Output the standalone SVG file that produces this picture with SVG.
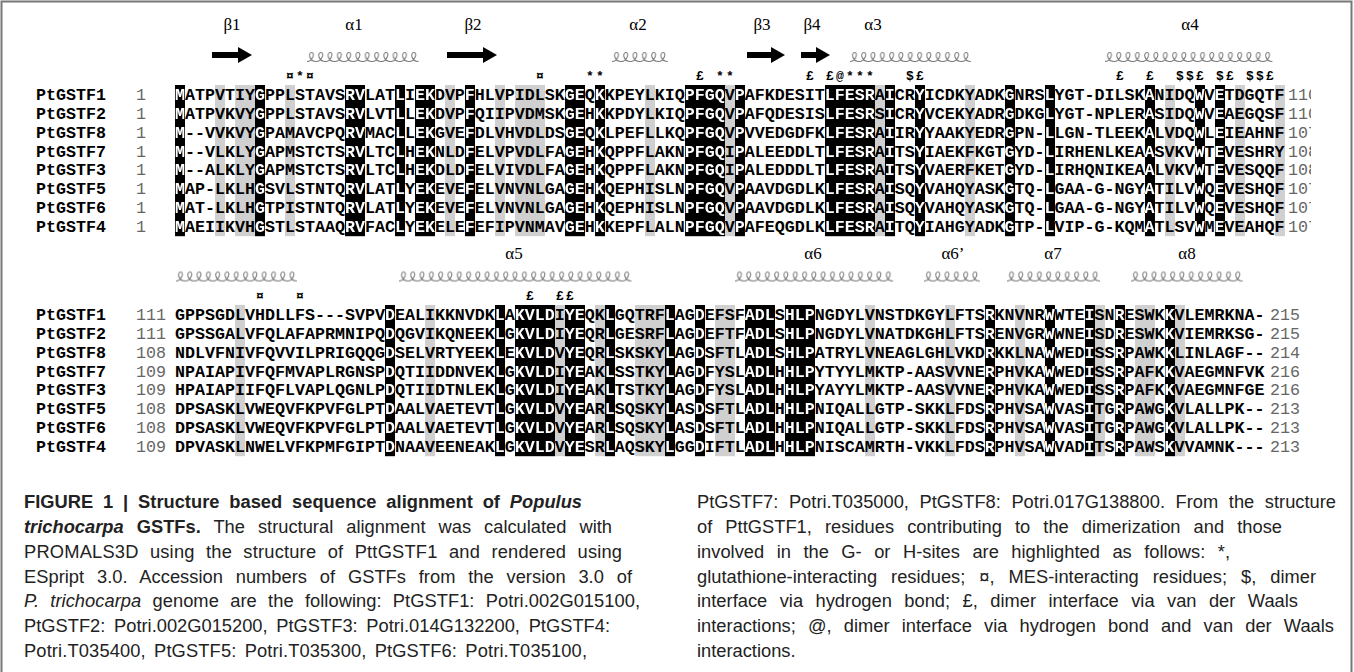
<svg xmlns="http://www.w3.org/2000/svg" width="1354" height="672" viewBox="0 0 1354 672">
<style>
.seq{font-family:'Liberation Mono','Courier New',monospace;font-weight:bold;font-size:16.667px}
.nm{font-family:'Liberation Mono','Courier New',monospace;font-weight:bold;font-size:16.667px;fill:#000}
.num{font-family:'Liberation Mono','Courier New',monospace;font-size:16.667px;fill:#666}
.ss{font-family:'Liberation Serif','Times New Roman',serif;font-size:17px;text-anchor:middle;fill:#000}
.mk{font-family:'Liberation Mono','Courier New',monospace;font-weight:bold;font-size:13px;text-anchor:middle;fill:#000}
.cap{font-family:'Liberation Sans',Arial,sans-serif;font-size:18.3px;fill:#222}
.b{font-weight:bold}
.i{font-style:italic}
.g{fill:#d0d0d0}
.strand{fill:#000}
</style>
<defs>
<pattern id="coil" width="9.3" height="12" patternUnits="userSpaceOnUse">
<path d="M0,10.5 c5.6,0 8.4,-9 4.65,-9 c-3.7,0 -2.8,9 4.65,9" fill="none" stroke="#777" stroke-width="1"/>
</pattern>
<clipPath id="endclip"><rect x="1200" y="80" width="111" height="160"/></clipPath>
<g id="blk">
<rect x="175" y="85" width="10" height="151.2"/><rect x="255" y="85" width="10" height="151.2"/><rect x="345" y="85" width="20" height="151.2"/><rect x="395" y="85" width="10" height="151.2"/><rect x="415" y="85" width="20" height="151.2"/><rect x="465" y="85" width="10" height="151.2"/><rect x="565" y="85" width="20" height="151.2"/><rect x="595" y="85" width="10" height="151.2"/><rect x="685" y="85" width="40" height="151.2"/><rect x="735" y="85" width="10" height="151.2"/><rect x="825" y="85" width="50" height="151.2"/><rect x="885" y="85" width="10" height="151.2"/><rect x="915" y="85" width="10" height="151.2"/><rect x="1005" y="85" width="10" height="151.2"/><rect x="1045" y="85" width="10" height="151.2"/><rect x="1145" y="85" width="10" height="151.2"/><rect x="1195" y="85" width="10" height="151.2"/><rect x="1215" y="85" width="10" height="151.2"/>
<rect x="385" y="305" width="10" height="151.2"/><rect x="495" y="305" width="10" height="151.2"/><rect x="515" y="305" width="40" height="151.2"/><rect x="565" y="305" width="20" height="151.2"/><rect x="605" y="305" width="10" height="151.2"/><rect x="665" y="305" width="10" height="151.2"/><rect x="695" y="305" width="10" height="151.2"/><rect x="745" y="305" width="30" height="151.2"/><rect x="785" y="305" width="30" height="151.2"/><rect x="985" y="305" width="10" height="151.2"/><rect x="1045" y="305" width="10" height="151.2"/><rect x="1085" y="305" width="10" height="151.2"/><rect x="1115" y="305" width="10" height="151.2"/><rect x="1165" y="305" width="10" height="151.2"/>
</g>
<mask id="wm" maskUnits="userSpaceOnUse" x="0" y="0" width="1354" height="672"><use href="#blk" fill="#fff"/></mask>
<g id="seqs">
<text class="seq" x="175" y="99.8">MATPVTIYGPPLSTAVSRVLATLIEKDVPFHLVPIDLSKGEQKKPEYLKIQPFGQVPAFKDESITLFESRAICRYICDKYADKGNRSLYGT-DILSKANIDQWVETDGQTF</text>
<text class="seq" x="175" y="118.7">MATPVKVYGPPLSTAVSRVLVTLLEKDVPFQIIPVDMSKGEHKKPDYLKIQPFGQVPAFQDESISLFESRSICRYVCEKYADRGDKGLYGT-NPLERASIDQWVEAEGQSF</text>
<text class="seq" x="175" y="137.6">M--VVKVYGPAMAVCPQRVMACLLEKGVEFDLVHVDLDSGEQKLPEFLLKQPFGQVPVVEDGDFKLFESRAIIRYYAAKYEDRGPN-LLGN-TLEEKALVDQWLEIEAHNF</text>
<text class="seq" x="175" y="156.5">M--VLKLYGAPMSTCTSRVLTCLHEKNLDFELVPVDLFAGEHKQPPFLAKNPFGQIPALEEDDLTLFESRAITSYIAEKFKGTGYD-LIRHENLKEAASVKVWTEVESHRY</text>
<text class="seq" x="175" y="175.4">M--ALKLYGAPMSTCTSRVLTCLHEKDLDFELVIVDLFAGEHKQPPFLAKNPFGQIPALEDDDLTLFESRAITSYVAERFKETGYD-LIRHQNIKEAALVKVWTEVESQQF</text>
<text class="seq" x="175" y="194.3">MAP-LKLHGSVLSTNTQRVLATLYEKEVEFELVNVNLGAGEHKQEPHISLNPFGQVPAAVDGDLKLFESRAISQYVAHQYASKGTQ-LGAA-G-NGYATILVWQEVESHQF</text>
<text class="seq" x="175" y="213.2">MAT-LKLHGTPISTNTQRVLATLYEKEVEFELVNVNLGAGEHKQEPHISLNPFGQVPAAVDGDLKLFESRAISQYVAHQYASKGTQ-LGAA-G-NGYATILVWQEVESHQF</text>
<text class="seq" x="175" y="232.1">MAEIIKVHGSTLSTAAQRVFACLYEKELEFEFIPVNMAVGEHKKEPFLALNPFGQVPAFEQGDLKLFESRAITQYIAHGYADKGTP-LVIP-G-KQMATLSVWMEVEAHQF</text>
<text class="seq" x="175" y="319.8">GPPSGDLVHDLLFS---SVPVDEALIKKNVDKLAKVLDIYEQKLGQTRFLAGDEFSFADLSHLPNGDYLVNSTDKGYLFTSRKNVNRWWTEISNRESWKKVLEMRKNA-</text>
<text class="seq" x="175" y="338.7">GPSSGALVFQLAFAPRMNIPQDQGVIKQNEEKLGKVLDIYEQRLGESRFLAGDEFTFADLSHLPNGDYLVNATDKGHLFTSRENVGRWWNEISDRESWKKVIEMRKSG-</text>
<text class="seq" x="175" y="357.6">NDLVFNIVFQVVILPRIGQQGDSELVRTYEEKLEKVLDVYEQRLSKSKYLAGDSFTLADLSHLPATRYLVNEAGLGHLVKDRKKLNAWWEDISSRPAWKKLINLAGF--</text>
<text class="seq" x="175" y="376.5">NPAIAPIVFQFMVAPLRGNSPDQTIIDDNVEKLGKVLDIYEAKLSSTKYLAGDFYSLADLHHLPYTYYLMKTP-AASVVNERPHVKAWWEDISSRPAFKKVAEGMNFVK</text>
<text class="seq" x="175" y="395.4">HPAIAPIIFQFLVAPLQGNLPDQTIIDTNLEKLGKVLDIYEAKLTSTKYLAGDFYSLADLHHLPYAYYLMKTP-AASVVNERPHVKAWWEDISSRPAFKKVAEGMNFGE</text>
<text class="seq" x="175" y="414.3">DPSASKLVWEQVFKPVFGLPTDAALVAETEVTLGKVLDVYEARLSQSKYLASDSFTLADLHHLPNIQALLGTP-SKKLFDSRPHVSAWVASITGRPAWGKVLALLPK--</text>
<text class="seq" x="175" y="433.2">DPSASKLVWEQVFKPVFGLPTDAALVAETEVTLGKVLDVYEARLSQSKYLASDSFTLADLHHLPNIQALLGTP-SKKLFDSRPHVSAWVASITGRPAWGKVLALLPK--</text>
<text class="seq" x="175" y="452.1">DPVASKLNWELVFKPMFGIPTDNAAVEENEAKLGKVLDVYESRLAQSKYLGGDIFTLADLHHLPNISCAMRTH-VKKLFDSRPHVSAWVADITSRPAWSKVVAMNK---</text>
</g>
</defs>
<rect x="1.5" y="1.5" width="1350" height="700" fill="none" stroke="#777" stroke-width="2"/>
<g id="similar-columns">
<rect class="g" x="215" y="85" width="10" height="151.2"/><rect class="g" x="235" y="85" width="20" height="151.2"/><rect class="g" x="285" y="85" width="10" height="151.2"/><rect class="g" x="445" y="85" width="10" height="151.2"/><rect class="g" x="495" y="85" width="10" height="151.2"/><rect class="g" x="515" y="85" width="30" height="151.2"/><rect class="g" x="645" y="85" width="10" height="151.2"/><rect class="g" x="725" y="85" width="10" height="151.2"/><rect class="g" x="875" y="85" width="10" height="151.2"/><rect class="g" x="965" y="85" width="10" height="151.2"/><rect class="g" x="1165" y="85" width="10" height="151.2"/><rect class="g" x="1235" y="85" width="10" height="151.2"/><rect class="g" x="1275" y="85" width="10" height="151.2"/>
<rect class="g" x="235" y="305" width="10" height="151.2"/><rect class="g" x="425" y="305" width="10" height="151.2"/><rect class="g" x="555" y="305" width="10" height="151.2"/><rect class="g" x="595" y="305" width="10" height="151.2"/><rect class="g" x="635" y="305" width="30" height="151.2"/><rect class="g" x="715" y="305" width="20" height="151.2"/><rect class="g" x="865" y="305" width="10" height="151.2"/><rect class="g" x="945" y="305" width="10" height="151.2"/><rect class="g" x="1015" y="305" width="10" height="151.2"/><rect class="g" x="1095" y="305" width="10" height="151.2"/><rect class="g" x="1135" y="305" width="20" height="151.2"/><rect class="g" x="1175" y="305" width="10" height="151.2"/>
</g>
<g id="identical-columns"><use href="#blk" fill="#000"/></g>
<g id="sequences">
<use href="#seqs" fill="#000"/>
<use href="#seqs" fill="#fff" mask="url(#wm)"/>
</g>
<g id="names">
<text class="nm" x="36" y="99.8">PtGSTF1</text><text class="nm" x="36" y="118.7">PtGSTF2</text><text class="nm" x="36" y="137.6">PtGSTF8</text><text class="nm" x="36" y="156.5">PtGSTF7</text><text class="nm" x="36" y="175.4">PtGSTF3</text><text class="nm" x="36" y="194.3">PtGSTF5</text><text class="nm" x="36" y="213.2">PtGSTF6</text><text class="nm" x="36" y="232.1">PtGSTF4</text>
<text class="nm" x="36" y="319.8">PtGSTF1</text><text class="nm" x="36" y="338.7">PtGSTF2</text><text class="nm" x="36" y="357.6">PtGSTF8</text><text class="nm" x="36" y="376.5">PtGSTF7</text><text class="nm" x="36" y="395.4">PtGSTF3</text><text class="nm" x="36" y="414.3">PtGSTF5</text><text class="nm" x="36" y="433.2">PtGSTF6</text><text class="nm" x="36" y="452.1">PtGSTF4</text>
</g>
<g id="numbers">
<text class="num" x="136" y="99.8">1</text><text class="num" x="136" y="118.7">1</text><text class="num" x="136" y="137.6">1</text><text class="num" x="136" y="156.5">1</text><text class="num" x="136" y="175.4">1</text><text class="num" x="136" y="194.3">1</text><text class="num" x="136" y="213.2">1</text><text class="num" x="136" y="232.1">1</text>
<g clip-path="url(#endclip)">
<text class="num" x="1288" y="99.8">110</text><text class="num" x="1288" y="118.7">110</text><text class="num" x="1288" y="137.6">107</text><text class="num" x="1288" y="156.5">108</text><text class="num" x="1288" y="175.4">108</text><text class="num" x="1288" y="194.3">107</text><text class="num" x="1288" y="213.2">107</text><text class="num" x="1288" y="232.1">107</text>
</g>
<text class="num" x="136" y="319.8">111</text><text class="num" x="136" y="338.7">111</text><text class="num" x="136" y="357.6">108</text><text class="num" x="136" y="376.5">109</text><text class="num" x="136" y="395.4">109</text><text class="num" x="136" y="414.3">108</text><text class="num" x="136" y="433.2">108</text><text class="num" x="136" y="452.1">109</text>
<text class="num" x="1270" y="319.8">215</text><text class="num" x="1270" y="338.7">215</text><text class="num" x="1270" y="357.6">214</text><text class="num" x="1270" y="376.5">216</text><text class="num" x="1270" y="395.4">216</text><text class="num" x="1270" y="414.3">213</text><text class="num" x="1270" y="433.2">213</text><text class="num" x="1270" y="452.1">213</text>
</g>
<g id="secondary-structure">
<text class="ss" x="232" y="30">β1</text><text class="ss" x="354" y="30">α1</text><text class="ss" x="473" y="30">β2</text><text class="ss" x="638" y="30">α2</text><text class="ss" x="762" y="30">β3</text><text class="ss" x="812" y="30">β4</text><text class="ss" x="873" y="30">α3</text><text class="ss" x="1190" y="30">α4</text>
<polygon class="strand" points="212,52 238,52 238,47 252,55 238,63 238,58 212,58"/>
<polygon class="strand" points="447,52 483,52 483,47 497,55 483,63 483,58 447,58"/>
<polygon class="strand" points="747,52 771,52 771,47 785,55 771,63 771,58 747,58"/>
<polygon class="strand" points="801,52 816,52 816,47 830,55 816,63 816,58 801,58"/>
<rect transform="translate(307,51)" width="111.6" height="12" fill="url(#coil)"/>
<rect transform="translate(612,51)" width="55.8" height="12" fill="url(#coil)"/>
<rect transform="translate(850,51)" width="120.9" height="12" fill="url(#coil)"/>
<rect transform="translate(1105,51)" width="167.4" height="12" fill="url(#coil)"/>
<text class="ss" x="514" y="259">α5</text><text class="ss" x="813" y="259">α6</text><text class="ss" x="953" y="259">α6’</text><text class="ss" x="1053" y="259">α7</text><text class="ss" x="1187" y="259">α8</text>
<rect transform="translate(176,270.5)" width="120.9" height="12" fill="url(#coil)"/>
<rect transform="translate(399,270.5)" width="232.5" height="12" fill="url(#coil)"/>
<rect transform="translate(735,270.5)" width="158.1" height="12" fill="url(#coil)"/>
<rect transform="translate(924,270.5)" width="55.8" height="12" fill="url(#coil)"/>
<rect transform="translate(1007,270.5)" width="93" height="12" fill="url(#coil)"/>
<rect transform="translate(1131,270.5)" width="111.6" height="12" fill="url(#coil)"/>
</g>
<g id="markers">
<text class="mk" x="290 300 310 540 590 600 700 720 730 810 830 840 850 860 870 910 920 1120 1150 1180 1190 1200 1220 1230 1250 1260 1270" y="80">¤*¤¤**£**££@***$£££$$£$£$$£</text>
<text class="mk" x="260 300 530 560 570" y="300">¤¤£££</text>
</g>
<g id="caption" class="cap">
<text x="24" y="507.7" word-spacing="4.8" textLength="558" lengthAdjust="spacing"><tspan class="b">FIGURE 1 | Structure based sequence alignment of </tspan><tspan class="b i">Populus</tspan></text>
<text x="24" y="532.6" word-spacing="7.9" textLength="588" lengthAdjust="spacing"><tspan class="b i">trichocarpa</tspan><tspan class="b"> GSTFs.</tspan> The structural alignment was calculated with</text>
<text x="24" y="557.6" word-spacing="6.1" textLength="598" lengthAdjust="spacing">PROMALS3D using the structure of PttGSTF1 and rendered using</text>
<text x="24" y="582.5" word-spacing="7.7" textLength="608" lengthAdjust="spacing">ESpript 3.0. Accession numbers of GSTFs from the version 3.0 of</text>
<text x="24" y="607.4" word-spacing="6.2" textLength="616" lengthAdjust="spacing"><tspan class="i">P. trichocarpa</tspan> genome are the following: PtGSTF1: Potri.002G015100,</text>
<text x="24" y="632.3" word-spacing="3.6" textLength="586" lengthAdjust="spacing">PtGSTF2: Potri.002G015200, PtGSTF3: Potri.014G132200, PtGSTF4:</text>
<text x="24" y="657.3" word-spacing="3" textLength="563" lengthAdjust="spacing">Potri.T035400, PtGSTF5: Potri.T035300, PtGSTF6: Potri.T035100,</text>
<text x="697" y="507.7" word-spacing="5.5" textLength="639" lengthAdjust="spacing">PtGSTF7: Potri.T035000, PtGSTF8: Potri.017G138800. From the structure</text>
<text x="697" y="532.6" word-spacing="8" textLength="585" lengthAdjust="spacing">of PttGSTF1, residues contributing to the dimerization and those</text>
<text x="697" y="557.6" word-spacing="7.4" textLength="533" lengthAdjust="spacing">involved in the G- or H-sites are highlighted as follows: *,</text>
<text x="697" y="582.5" word-spacing="8.9" textLength="619" lengthAdjust="spacing">glutathione-interacting residues; ¤, MES-interacting residues; $, dimer</text>
<text x="697" y="607.4" word-spacing="7.3" textLength="601" lengthAdjust="spacing">interface via hydrogen bond; £, dimer interface via van der Waals</text>
<text x="697" y="632.3" word-spacing="7" textLength="637" lengthAdjust="spacing">interactions; @, dimer interface via hydrogen bond and van der Waals</text>
<text x="697" y="657.3">interactions.</text>
</g>
</svg>
